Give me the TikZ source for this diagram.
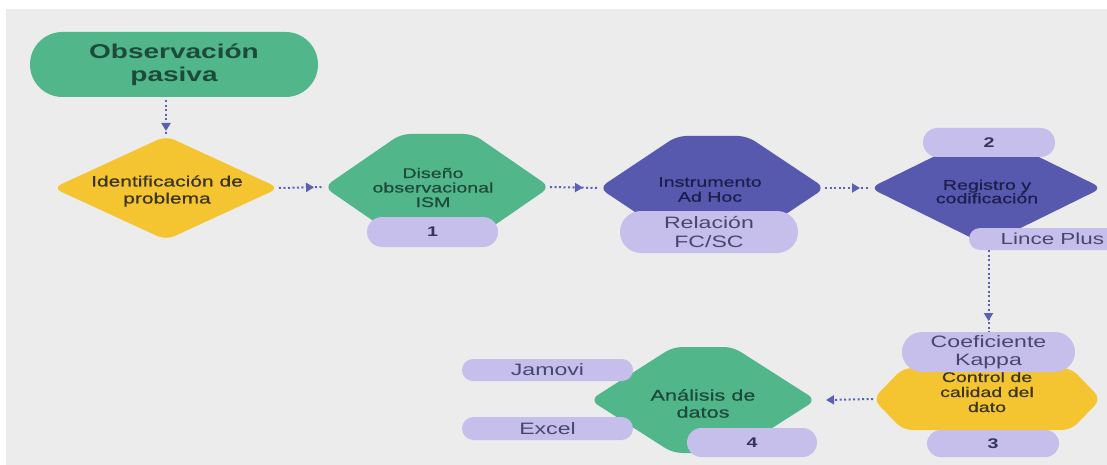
\documentclass[tikz,border=0pt]{standalone}
\usepackage{fontspec}
\setmainfont{Liberation Sans}[FakeStretch=1.4]
\newfontfamily\medfont{Liberation Sans}[FakeStretch=1.4, FakeBold=0.7]
\usetikzlibrary{calc,arrows.meta,decorations.markings,shapes.misc}
\definecolor{bgc}{HTML}{ECECEC}
\definecolor{grn}{HTML}{52B68B}
\definecolor{grntxt}{HTML}{1D4A3B}
\definecolor{ylw}{HTML}{F4C531}
\definecolor{ylwtxt}{HTML}{3A3420}
\definecolor{ind}{HTML}{5659AE}
\definecolor{indtxt}{HTML}{1D1E4C}
\definecolor{lav}{HTML}{C6BEEB}
\definecolor{lavtxt}{HTML}{46476F}
\definecolor{numtxt}{HTML}{33345A}
\definecolor{arr}{HTML}{5A61B3}
\newcommand\diam[2]{\fill[#2, rounded corners=9pt] (#1.west) -- (#1.north) -- (#1.east) -- (#1.south) -- cycle;}
\newcommand\hexa[3]{\fill[#2, rounded corners=9pt] (#1.west) -- ($(#1.north)+(-#3,0)$) -- ($(#1.north)+(#3,0)$) -- (#1.east) -- ($(#1.south)+(#3,0)$) -- ($(#1.south)+(-#3,0)$) -- cycle;}
\begin{document}
\begin{tikzpicture}[x=1pt,y=-1pt,
  shp/.style 2 args={minimum width=#1, minimum height=#2, inner sep=0pt, outer sep=0pt},
  txt/.style={inner sep=0pt, align=center},
  pill/.style={rounded rectangle, fill=lav, inner sep=0pt, outer sep=0pt, text=lavtxt, align=center},
  numpill/.style={pill, text=numtxt, font=\bfseries\fontsize{14}{16}\selectfont},
  wordpill/.style={pill, font=\fontsize{16.5}{18.5}\selectfont},
  conn/.style={draw=arr, line width=2pt, dash pattern=on 2pt off 2.5pt,
    postaction={decorate},
    decoration={markings, mark=at position #1 with {\arrow[arr]{Triangle[length=8pt,width=9pt]}}}},
  conn/.default=-10pt,
  connend/.style={draw=arr, line width=2pt, dash pattern=on 2pt off 2.5pt, -{Triangle[length=8pt,width=9pt]}}
]
\useasboundingbox (0,0) rectangle (1107,465);
\clip (0,0) rectangle (1107,465);
\fill[white] (0,0) rectangle (1107,465);
\fill[bgc] (6,9) rectangle (1107,465);

% start
\node (obs) [rounded rectangle, fill=grn, minimum width=288pt, minimum height=65pt, inner sep=0pt,
  text=grntxt, font=\bfseries\fontsize{20}{22.5}\selectfont, align=center] at (174,64.5) {Observación\\pasiva};

% shapes
\node (ident) [shp={226pt}{104pt}] at (166,188) {};
\diam{ident}{ylw}
\node (identt) [txt, text=ylwtxt, font=\medfont\fontsize{15}{17}\selectfont] at (167,191) {Identificación de\\problema};

\node (diseno) [shp={226pt}{106pt}] at (437,187) {};
\hexa{diseno}{grn}{36}
\node (disenot) [txt, text=grntxt, font=\medfont\fontsize{14}{14.5}\selectfont] at (433,187.5) {Diseño\\observacional\\ISM};

\node (instr) [shp={226pt}{104pt}] at (712,188) {};
\hexa{instr}{ind}{35}
\node (instrt) [txt, text=indtxt, font=\medfont\fontsize{14}{15}\selectfont] at (710,189.5) {Instrumento\\Ad Hoc};

\node (regis) [shp={232pt}{114pt}] at (986,188) {};
\diam{regis}{ind}
\node (regist) [txt, text=indtxt, font=\medfont\fontsize{14}{13.5}\selectfont] at (987,191.5) {Registro y\\codificación};

\node (control) [shp={228pt}{62pt}] at (987,399) {};
\hexa{control}{ylw}{84}
\node (controlt) [txt, text=ylwtxt, font=\medfont\fontsize{14}{15}\selectfont] at (987,392) {Control de\\calidad del\\dato};

\node (anal) [shp={226pt}{106pt}] at (703,400) {};
\hexa{anal}{grn}{30}
\node (analt) [txt, text=grntxt, font=\medfont\fontsize{15.5}{17}\selectfont] at (703,403.5) {Análisis de\\datos};

% pills
\node (p1) [numpill, minimum width=131pt, minimum height=30pt] at (432.5,232) {1};
\node (rel) [wordpill, minimum width=178pt, minimum height=42pt] at (709,232) {Relación\\FC/SC};
\node (p2) [numpill, minimum width=132pt, minimum height=29pt] at (989,142.5) {2};
\node (lince) [wordpill, anchor=west, minimum height=22pt, inner xsep=30pt, font=\fontsize{16}{18}\selectfont] at (969,239) {Lince Plus};
\node (kappa) [wordpill, minimum width=173pt, minimum height=40pt] at (988.5,352) {Coeficiente\\Kappa};
\node (p3) [numpill, minimum width=132pt, minimum height=27pt] at (993,443.5) {3};
\node (p4) [numpill, minimum width=130pt, minimum height=29pt] at (752,442.5) {4};
\node (jam) [wordpill, minimum width=171pt, minimum height=22pt] at (547.5,370) {Jamovi};
\node (exc) [wordpill, minimum width=171pt, minimum height=23pt] at (547.5,428.5) {Excel};

% connectors
\draw[conn=-5pt, shorten <=3pt] (ident.north |- obs.south) -- (ident.north);
\draw[conn] (ident.east) -- (diseno.west);
\draw[conn=-16pt] (diseno.east) -- (instr.west);
\draw[conn] (instr.east) -- (regis.west);
\draw[conn=-11pt] (kappa.north |- lince.south) -- (kappa.north);
\draw[connend] (control.west) -- ([xshift=10pt]anal.east);
\end{tikzpicture}
\end{document}
